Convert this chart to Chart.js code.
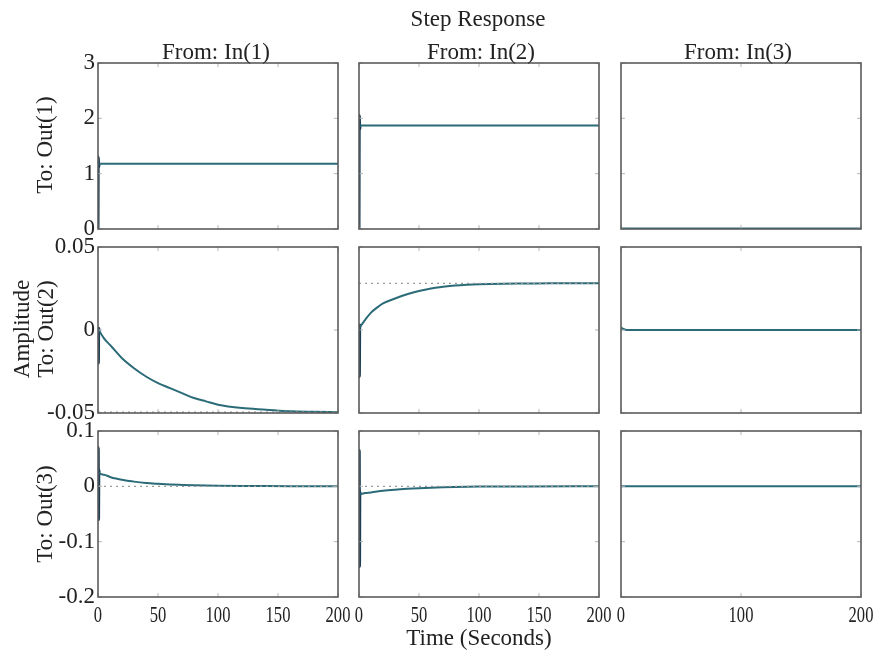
<!DOCTYPE html>
<html lang="en">
<head>
    <meta charset="UTF-8">
    <title>Step Response</title>
    <script src="https://cdn.jsdelivr.net/npm/chart.js"></script>
    <style>
        body {
            margin: 0;
            background: #fff;
        }
        #fig {
            position: relative;
            width: 875px;
            height: 653px;
            overflow: hidden;
            font-family: 'Liberation Serif', 'Times New Roman', serif;
            color: #222;
        }
        #fig canvas {
            position: absolute;
            left: 0;
            top: 0;
        }
        .lbl {
            position: absolute;
            font-size: 23px;
            white-space: nowrap;
            transform: translate(-50%, -50%);
        }
        .rot {
            transform: translate(-50%, -50%) rotate(-90deg);
        }
    </style>
</head>
<body>

<div id="fig">
    <div class="lbl" style="left:478px; top:19px;">Step Response</div>
    <div class="lbl" style="left:216px; top:52px;">From: In(1)</div>
    <div class="lbl" style="left:481px; top:52px;">From: In(2)</div>
    <div class="lbl" style="left:738px; top:52px;">From: In(3)</div>
    <div class="lbl rot" style="left:45px; top:145px;">To: Out(1)</div>
    <div class="lbl rot" style="left:22px; top:329px;">Amplitude</div>
    <div class="lbl rot" style="left:46px; top:329px;">To: Out(2)</div>
    <div class="lbl rot" style="left:45px; top:514px;">To: Out(3)</div>
    <div class="lbl" style="left:479px; top:638px;">Time (Seconds)</div>
</div>

<script>
    // step response samples (time in seconds)
    // Out(1)
    const t11 = [0, 0.25, 0.6, 1, 200];
    const y11 = [0, 1.30, 1.12, 1.18, 1.18];
    const t12 = [0, 0.25, 0.6, 1, 200];
    const y12 = [0, 2.05, 1.80, 1.87, 1.87];
    const t13 = [0, 200];
    const y13 = [0.01, 0.01];

    // Out(2)
    const t21 = [0, 0.3, 0.6, 1, 5, 10, 15, 20, 30, 40, 50, 60, 70, 80, 90, 100, 120, 140, 160, 180, 200];
    const y21 = [0, -0.02, 0.001, 0, -0.005, -0.009, -0.013, -0.017, -0.023, -0.028, -0.032, -0.035, -0.038, -0.041, -0.043, -0.045, -0.047, -0.048, -0.049, -0.0493, -0.0495];
    const t22 = [0, 0.3, 0.6, 1, 2, 5, 10, 15, 20, 30, 40, 50, 60, 70, 80, 90, 100, 120, 140, 160, 200];
    const y22 = [0, -0.028, 0.003, 0.002, 0.003, 0.006, 0.0105, 0.0135, 0.016, 0.019, 0.0215, 0.0235, 0.025, 0.026, 0.0268, 0.0273, 0.0276, 0.0279, 0.028, 0.0281, 0.0281];
    const t23 = [0, 0.5, 2, 5, 200];
    const y23 = [0, 0.0012, 0.0006, 0, 0];

    // Out(3)
    const t31 = [0, 0.2, 0.45, 0.7, 1, 5, 10, 15, 20, 30, 40, 50, 60, 70, 80, 90, 100, 120, 140, 160, 200];
    const y31 = [0, 0.07, -0.06, 0.03, 0.024, 0.021, 0.017, 0.014, 0.012, 0.0085, 0.006, 0.0045, 0.0033, 0.0025, 0.0018, 0.0013, 0.001, 0.0006, 0.0004, 0.0003, 0.0002];
    const t32 = [0, 0.2, 0.45, 0.7, 1, 5, 10, 20, 30, 40, 50, 60, 70, 80, 90, 100, 120, 140, 200];
    const y32 = [0, 0.065, -0.145, -0.01, -0.014, -0.012, -0.011, -0.008, -0.006, -0.0045, -0.0033, -0.0024, -0.0017, -0.0012, -0.0008, -0.0005, -0.0002, -0.0001, 0];
    const t33 = [0, 200];
    const y33 = [0, 0];

    // steady-state (dotted) levels, null = not drawn
    const steady = [
        [null, null, null],
        [-0.0495, 0.0281, null],
        [0, 0, null]
    ];

    // axes
    const yRange = [[0, 3], [-0.05, 0.05], [-0.2, 0.1]];
    const yTicks = [[0, 1, 2, 3], [-0.05, 0, 0.05], [-0.2, -0.1, 0, 0.1]];
    const yTickLabels = [['0', '1', '2', '3'], ['-0.05', '0', '0.05'], ['-0.2', '-0.1', '0', '0.1']];
    const xTicks = [[0, 50, 100, 150, 200], [0, 50, 100, 150, 200], [0, 100, 200]];

    const series = [
        [[t11, y11], [t12, y12], [t13, y13]],
        [[t21, y21], [t22, y22], [t23, y23]],
        [[t31, y31], [t32, y32], [t33, y33]]
    ];

    // panel boxes in page pixels
    const colL = [98, 359, 621], colR = [338, 599, 861];
    const rowT = [63, 247, 431], rowB = [229, 413, 597];
    const W = 900, H = 653;

    Chart.defaults.font.family = "'Liberation Serif', 'Times New Roman', serif";
    Chart.defaults.font.size = 23;
    Chart.defaults.color = '#222';

    // box round the plot, faint inner tick marks, and the narrow time labels
    const boxPlugin = {
        id: 'box',
        afterDraw(chart, args, opts) {
            const { ctx, chartArea: a, scales } = chart;
            ctx.save();
            ctx.strokeStyle = '#b5b5b5';
            ctx.lineWidth = 1;
            ctx.beginPath();
            scales.x.ticks.forEach(t => {
                const px = scales.x.getPixelForValue(t.value);
                ctx.moveTo(px, a.bottom); ctx.lineTo(px, a.bottom - 4);
                ctx.moveTo(px, a.top); ctx.lineTo(px, a.top + 4);
            });
            scales.y.ticks.forEach(t => {
                const py = scales.y.getPixelForValue(t.value);
                ctx.moveTo(a.left, py); ctx.lineTo(a.left + 4, py);
                ctx.moveTo(a.right, py); ctx.lineTo(a.right - 4, py);
            });
            ctx.stroke();
            ctx.strokeStyle = '#5c5c5c';
            ctx.lineWidth = 1.6;
            ctx.strokeRect(a.left, a.top, a.right - a.left, a.bottom - a.top);

            if (opts.timeLabels) {
                ctx.fillStyle = '#222';
                ctx.font = "23px 'Liberation Serif', 'Times New Roman', serif";
                ctx.textAlign = 'center';
                ctx.textBaseline = 'alphabetic';
                scales.x.ticks.forEach(t => {
                    const px = scales.x.getPixelForValue(t.value);
                    ctx.save();
                    ctx.translate(px, a.bottom + 25);
                    ctx.scale(0.72, 1);
                    ctx.fillText(String(t.value), 0, 0);
                    ctx.restore();
                });
            }
            ctx.restore();
        }
    };

    const fig = document.getElementById('fig');

    for (let r = 0; r < 3; r++) {
        for (let c = 0; c < 3; c++) {
            const yw = c === 0 ? 60 : 0;
            const xh = r === 2 ? 40 : 0;
            const canvas = document.createElement('canvas');
            canvas.width = W;
            canvas.height = H;
            fig.insertBefore(canvas, fig.firstChild);

            const [ts, ys] = series[r][c];
            const datasets = [];
            if (steady[r][c] !== null) {
                datasets.push({
                    data: [{ x: 0, y: steady[r][c] }, { x: 200, y: steady[r][c] }],
                    borderColor: '#9a9a9a',
                    borderWidth: 1.3,
                    borderDash: [2, 4],
                    pointRadius: 0
                });
            }
            datasets.push({
                data: ts.map((t, i) => ({ x: t, y: ys[i] })),
                borderColor: '#2b6b78',
                borderWidth: 2,
                pointRadius: 0,
                cubicInterpolationMode: 'monotone',
                segment: {
                    borderColor: s => s.p1.parsed.x <= 1 ? '#1d3f55' : undefined,
                    borderWidth: s => s.p1.parsed.x <= 1 ? 3 : undefined
                }
            });

            new Chart(canvas, {
                type: 'line',
                data: { datasets },
                plugins: [boxPlugin],
                options: {
                    responsive: false,
                    animation: false,
                    events: [],
                    layout: {
                        padding: {
                            left: colL[c] - yw,
                            right: W - colR[c],
                            top: rowT[r],
                            bottom: H - rowB[r] - xh
                        }
                    },
                    plugins: {
                        legend: { display: false },
                        tooltip: { enabled: false },
                        box: { timeLabels: r === 2 }
                    },
                    scales: {
                        x: {
                            type: 'linear',
                            min: 0,
                            max: 200,
                            grid: { display: false, drawTicks: false },
                            border: { display: false },
                            afterBuildTicks: s => { s.ticks = xTicks[c].map(v => ({ value: v })); },
                            afterFit: s => { s.height = xh; },
                            ticks: { display: false }
                        },
                        y: {
                            min: yRange[r][0],
                            max: yRange[r][1],
                            grid: { display: false, drawTicks: false },
                            border: { display: false },
                            afterBuildTicks: s => { s.ticks = yTicks[r].map(v => ({ value: v })); },
                            afterFit: s => { s.width = yw; },
                            ticks: {
                                display: c === 0,
                                padding: 3,
                                autoSkip: false,
                                callback: (v, i) => yTickLabels[r][i]
                            }
                        }
                    }
                }
            });
        }
    }
</script>
</body>
</html>
